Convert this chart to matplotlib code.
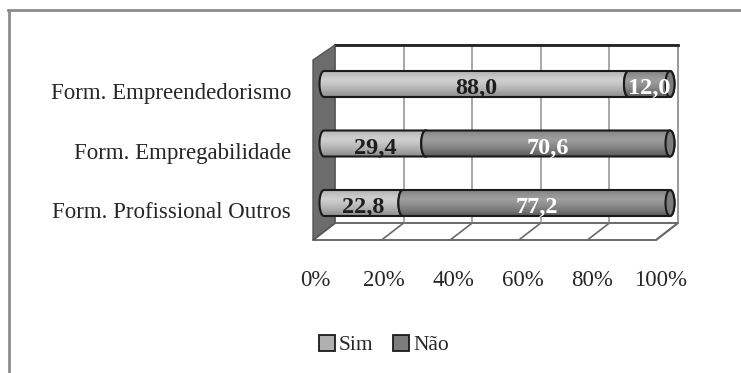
import numpy as np
import matplotlib
matplotlib.use("Agg")
import matplotlib.pyplot as plt
from matplotlib.patches import Polygon, Ellipse, Patch
from matplotlib.lines import Line2D

# ---- data ----
categories = ["Form. Empreendedorismo", "Form. Empregabilidade", "Form. Profissional Outros"]
sim = [88.0, 29.4, 22.8]
nao = [12.0, 70.6, 77.2]
series_names = ["Sim", "Não"]
tick_values = [0, 20, 40, 60, 80, 100]
tick_labels = ["0%", "20%", "40%", "60%", "80%", "100%"]

W, H = 741, 373
FONT = "Liberation Serif"

fig = plt.figure(figsize=(W / 100, H / 100), dpi=100)
ax = fig.add_axes([0, 0, 1, 1])
ax.set_axis_off()

# percent scale: 0% -> 324 px, 100% -> 670 px ; rows 59.5 px apart starting at 84 px
X0, PXW = 324.0, 3.46
Y0, ROW = 84.0, 59.5
ax.set_xlim(-X0 / PXW, (W - X0) / PXW)
ax.set_ylim((H - Y0) / ROW, -Y0 / ROW)


def px(xp, yp):
    """Convert pixel position of the canvas into data coordinates."""
    return ((xp - X0) / PXW, (yp - Y0) / ROW)


# ---- outer frame (top and left edges) ----
fig.add_artist(Line2D([8 / W, 1], [1 - 9.5 / H, 1 - 9.5 / H], color="#8c8c8c", lw=2))
fig.add_artist(Line2D([8.5 / W, 8.5 / W], [0, 1 - 9.5 / H], color="#8c8c8c", lw=2))

# ---- 3D walls ----
gstep = 68.6
back_l, back_r, back_t, back_b = 335, 678, 45, 223
depth_x, depth_y = 22, 17

back = Polygon([px(back_l, back_t), px(back_r, back_t), px(back_r, back_b), px(back_l, back_b)],
               closed=True, facecolor="white", edgecolor="#8a8a8a", lw=1.2, zorder=1)
ax.add_patch(back)
ax.plot(*zip(px(back_l, back_t), px(back_r, back_t)), color="#222222", lw=2, zorder=2)

for k in range(len(tick_values)):
    xb = back_l + gstep * k
    ax.plot(*zip(px(xb, back_t), px(xb, back_b)), color="#9a9a9a", lw=1.2, zorder=1.5)

floor = Polygon([px(back_l, back_b), px(back_r, back_b),
                 px(back_r - depth_x, back_b + depth_y), px(back_l - depth_x, back_b + depth_y)],
                closed=True, facecolor="white", edgecolor="#6a6a6a", lw=1.4, zorder=1)
ax.add_patch(floor)
for k in range(len(tick_values)):
    xb = back_l + gstep * k
    ax.plot(*zip(px(xb, back_b), px(xb - depth_x, back_b + depth_y)),
            color="#6a6a6a", lw=1.2, zorder=1.5)

left_wall = Polygon([px(back_l - depth_x, back_t + 15), px(back_l, back_t),
                     px(back_l, back_b), px(back_l - depth_x, back_b + depth_y)],
                    closed=True, facecolor="#6c6c6c", edgecolor="#555555", lw=1, zorder=2)
ax.add_patch(left_wall)

# ---- cylinder bars ----
a = 4.5 / PXW          # horizontal semi-axis of the end ellipses (data units)
h = 13.0 / ROW         # half bar height (data units)


def cylinder_outline(x0, x1, yc, n=40):
    t1 = np.linspace(np.pi / 2, 3 * np.pi / 2, n)
    left = np.column_stack([x0 + a * np.cos(t1), yc - h * np.sin(t1)])
    t2 = np.linspace(-np.pi / 2, np.pi / 2, n)
    right = np.column_stack([x1 + a * np.cos(t2), yc - h * np.sin(t2)])
    return np.vstack([left, right])


def shade(light, dark, n=64):
    """Vertical gradient for a horizontal cylinder: highlight above centre."""
    t = np.linspace(0, 1, n)
    w = np.clip(np.abs(t - 0.35) / 0.65, 0, 1) ** 1.3
    light = np.array(matplotlib.colors.to_rgb(light))
    dark = np.array(matplotlib.colors.to_rgb(dark))
    return (light[None, :] * (1 - w[:, None]) + dark[None, :] * w[:, None])[:, None, :]


body_cols = {"Sim": ("#cfcfcf", "#8c8c8c"), "Não": ("#9e9e9e", "#5c5c5c")}
face_cols = {"Sim": "#9a9a9a", "Não": "#7c7c7c"}
label_cols = {"Sim": "#1e1e1e", "Não": "white"}

for r, cat in enumerate(categories):
    start = 0.0
    for name, vals in zip(series_names, (sim, nao)):
        v = vals[r]
        x0, x1 = start, start + v
        img = ax.imshow(shade(*body_cols[name]), extent=(x0 - a, x1 + a, r + h, r - h),
                        aspect="auto", interpolation="bilinear", zorder=3.9 + start / 100)
        clip = Polygon(cylinder_outline(x0, x1, r), closed=True, facecolor="none",
                       edgecolor="none")
        ax.add_patch(clip)
        img.set_clip_path(clip)
        ax.add_patch(Polygon(cylinder_outline(x0, x1, r), closed=True, facecolor="none",
                             edgecolor="#1a1a1a", lw=1.5, zorder=4 + start / 100))
        ax.add_patch(Ellipse((x1, r), 2 * a, 2 * h, facecolor=face_cols[name],
                             edgecolor="#1a1a1a", lw=1.5, zorder=4.05 + start / 100))
        ax.text((x0 + x1) / 2, r + 4.5 / ROW, f"{v:.1f}".replace(".", ","),
                ha="center", va="center", fontsize=17.5, fontweight="bold",
                family=FONT, color=label_cols[name], zorder=10)
        start = x1

# ---- category labels ----
for r, cat in enumerate(categories):
    ax.text(*px(291, 99 + ROW * r), cat, ha="right", va="baseline",
            fontsize=16.5, family=FONT, color="#262626")

# ---- percent tick labels ----
for v, lab in zip(tick_values, tick_labels):
    ax.text(v - 9 / PXW, px(0, 286)[1], lab, ha="center", va="baseline",
            fontsize=16.5, family=FONT, color="#262626")

# ---- legend ----
handles = [Patch(facecolor=face_cols[n] if n == "Não" else "#b0b0b0",
                 edgecolor="#1a1a1a", lw=1.3, label=n) for n in series_names]
fig.legend(handles=handles, loc="center", bbox_to_anchor=(384 / W, 1 - 345 / H), ncol=2,
           frameon=False, handlelength=0.75, handleheight=0.75, handletextpad=0.2,
           columnspacing=0.9, prop={"family": FONT, "size": 15.5}, labelcolor="#262626")

fig.savefig("out.png", dpi=100)
